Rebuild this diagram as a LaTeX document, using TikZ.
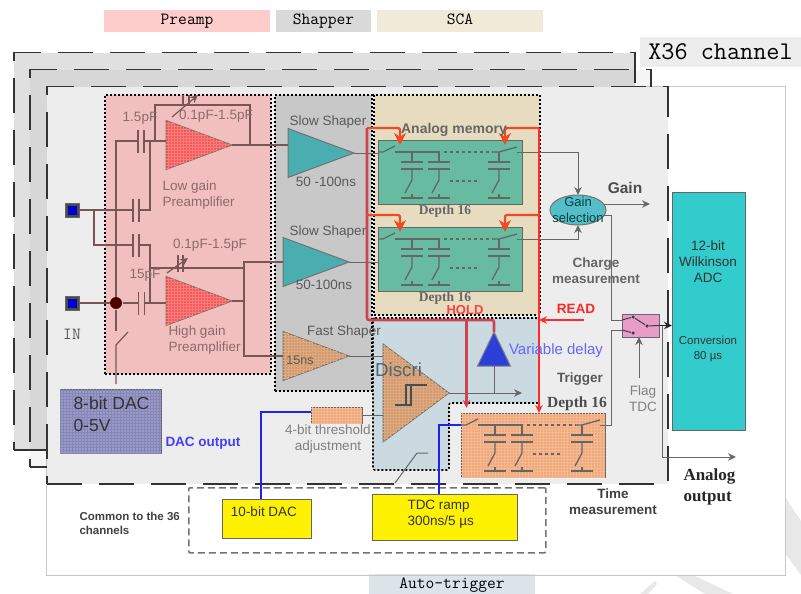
\documentclass[tikz,border=0pt]{standalone}
\usepackage{fontspec}
\setmainfont{Liberation Sans}
\newfontfamily\depthfont{Liberation Serif}
\usetikzlibrary{shapes.geometric,arrows.meta,patterns}
\definecolor{preampfill}{HTML}{F2BFBF}
\definecolor{shaperfill}{HTML}{C8C8C8}
\definecolor{scafill}{HTML}{E8DCC0}
\definecolor{trigfill}{HTML}{CBDAE0}
\definecolor{tealamp}{HTML}{4AADB0}
\definecolor{redamp}{HTML}{F85858}
\definecolor{brownamp}{HTML}{D59A6C}
\definecolor{bankgreen}{HTML}{66BBA0}
\definecolor{bankorange}{HTML}{F0A878}
\definecolor{prebrown}{HTML}{7A5555}
\definecolor{prelabel}{HTML}{8C6A6A}
\definecolor{holdred}{HTML}{CC4450}
\definecolor{branchred}{HTML}{F04A25}
\definecolor{readred}{HTML}{FF2A2A}
\definecolor{wireblue}{HTML}{2222F0}
\definecolor{dacfill}{HTML}{9999CC}
\definecolor{adcfill}{HTML}{33CCCC}
\definecolor{gainfill}{HTML}{55BEC8}
\definecolor{delayblue}{HTML}{2B3FD9}
\definecolor{flagfill}{HTML}{E89CC8}
\definecolor{markgray}{HTML}{E8E8E8}
\newcommand{\capnode}[3]{%
  \node[capgap] (#1) at (#2,#3) {};
  \draw[prewire] (#1.north west) -- (#1.south west) (#1.north east) -- (#1.south east);}
\newcommand{\membank}[5]{%
  \node[bankbox,fill=#4,#5] (#1) at (#2,#3) {};
  \begin{scope}[shift={(#2,#3)},bankwire]
    \coordinate (#1in) at (0,12);
    \coordinate (#1out) at (139,12);
    \draw (#1in) -- (5,12) -- (17,6);
    \draw (17,12) -- (62,12);
    \draw[dashed] (66,12) -- (115,12);
    \draw (115,12) -- (121,12) -- (139,7);
    \draw[dashed] (72,41) -- (99,41);
    \foreach \cx in {34,61,121} {
      \draw (\cx,12) -- (\cx,22);
      \draw (\cx-11,22) -- (\cx+11,22);
      \draw (\cx-11,29) -- (\cx+11,29);
      \draw (\cx,29) -- (\cx,40) -- (\cx-7,53);
      \draw (\cx,54) -- (\cx,58);
      \draw (\cx-11,58) -- (\cx+11,58);
    }
  \end{scope}}

\begin{document}
\begin{tikzpicture}[>={Stealth[length=8pt,width=7.5pt]},x=1pt,y=-1pt,line width=1pt,
  lbl/.style={font=\fontsize{13.5}{16}\selectfont,inner sep=0pt,align=center,text=#1},
  lbl/.default=black!65,
  boldlbl/.style={font=\fontsize{13.5}{16}\selectfont\bfseries,inner sep=0pt,align=center,text=#1},
  boldlbl/.default=black!70,
  legend/.style={font=\fontsize{17}{20}\selectfont\ttfamily,inner sep=0pt,minimum height=22pt,text height=11pt,text depth=3pt},
  chframe/.style={draw=black!80,line width=1.5pt,dash pattern=on 35pt off 17pt,inner sep=0pt,minimum width=621pt,minimum height=397pt,anchor=north west},
  block/.style={draw=black,line width=1.6pt,dash pattern=on 2pt off 2pt,inner sep=0pt,anchor=north west},
  ampl/.style={isosceles triangle,isosceles triangle stretches,shape border rotate=0,draw=black!55,inner sep=0pt,outer sep=0pt,anchor=apex,minimum width=49pt,minimum height=66pt},
  hatched/.style={postaction={pattern=grid,pattern color=#1}},
  capgap/.style={minimum width=6pt,minimum height=23pt,inner sep=0pt,outer sep=0pt},
  bankbox/.style={draw=black!60,minimum width=144pt,minimum height=64pt,inner sep=0pt,outer sep=0pt,anchor=north west},
  bankwire/.style={draw=black!60,line width=1.3pt},
  prewire/.style={draw=prebrown,line width=1.2pt},
  wire/.style={draw=black!60,line width=1pt},
  box/.style={draw=black!60,inner sep=0pt,outer sep=0pt,anchor=north west},
  holdwire/.style={draw=holdred,line width=2.6pt},
  branch/.style={draw=branchred,line width=2.4pt,rounded corners=2pt,>={Stealth[length=12pt,width=12pt]}},
  bluewire/.style={draw=wireblue,line width=2.2pt}]
\useasboundingbox (0,0) rectangle (801,594);
% watermark at the corner
\fill[markgray] (785,497) -- (801,521) -- (801,575) -- (785,553) -- cycle;
\fill[markgray] (675,575) -- (693,575) -- (733,594) -- (705,594) -- cycle;
\fill[markgray] (640,594) -- (655,581) -- (657,584) -- (648,594) -- cycle;
% legend
\node[legend,fill=red!20,minimum width=166pt] (preamplegend) at (187,21) {Preamp};
\node[legend,fill=black!15,minimum width=95pt] (shaperlegend) at (323.5,21) {Shapper};
\node[legend,fill=scafill!60,minimum width=166pt] (scalegend) at (460,21) {SCA};
\node[legend,fill=black!7,minimum width=161pt,minimum height=30pt,font=\fontsize{25.5}{27}\selectfont\ttfamily,text height=19pt,text depth=3pt] (x36) at (720.5,52) {X36 channel};
\node[legend,fill=trigfill!70,minimum width=166pt,minimum height=20pt] (autolegend) at (452,584) {Auto-trigger};
% paper and the stacked channels
\node[draw=black!22,minimum width=739pt,minimum height=489pt,inner sep=0pt,anchor=north west] (paper) at (46,86) {};
\node[chframe,fill=black!12] (chone) at (13,52) {};
\node[chframe,fill=black,fill opacity=.04] (chtwo) at (29,69) {};
\node[chframe,fill=black!7] (chthree) at (46,86) {};
% coloured blocks
\node[block,fill=preampfill,minimum width=166pt,minimum height=279pt] (preampblk) at (104,94) {};
\node[block,fill=shaperfill,minimum width=97pt,minimum height=296pt] (shaperblk) at (274,94) {};
\node[block,fill=scafill,minimum width=166pt,minimum height=220pt] (scablk) at (373,94) {};
\draw[block,fill=trigfill,rounded corners=2pt] (373,318) -- (539,318) -- (539,403) -- (449,403) -- (449,470) -- (373,470) -- cycle;
% inputs and preamplifiers
\node[box,fill=black!70,minimum size=14pt,anchor=center] (padlo) at (72,210) {};
\node[fill=blue!80!black,minimum size=9pt,inner sep=0pt] (padloin) at (padlo) {};
\node[box,fill=black!70,minimum size=14pt,anchor=center] (padhi) at (72,303) {};
\node[fill=blue!80!black,minimum size=9pt,inner sep=0pt] (padhiin) at (padhi) {};
\node[fill=black!70!red,circle,minimum size=12pt,inner sep=0pt] (injn) at (116,303) {};
\capnode{capa}{141}{141}
\capnode{capb}{136}{210}
\capnode{capc}{136}{245}
\capnode{capd}{141.5}{303}
\node[ampl,fill=redamp,hatched=redamp!78!white] (lowamp) at (232,145) {};
\node[ampl,fill=redamp,hatched=redamp!78!white] (hiamp) at (232,301) {};
\node[ampl,fill=tealamp] (slowa) at (354,153) {};
\node[ampl,fill=tealamp] (slowb) at (349,262) {};
\node[ampl,fill=brownamp,hatched=brownamp!85!white] (fast) at (349,356) {};
\node[box,fill=dacfill,hatched=dacfill!88!black,minimum width=101pt,minimum height=64pt] (dac) at (60,389) {};
\draw[prewire] (padlo) -- (capb.west);
\draw[prewire] ([xshift=15pt]padlo.east) |- (capc.west);
\draw[prewire] (capb.east) -| ([xshift=6pt]capa.east);
\draw[prewire] (capc.east) -| ([xshift=5.5pt]capd.east);
\draw[prewire] (padhi) -- (injn) -- (capd.west);
\draw[prewire] (capd.east) -- (capd.east -| hiamp.lower side);
\draw[prewire] (injn) |- (capa.west);
\draw[prewire] (capa.east) -- (capa.east -| lowamp.lower side);
\draw[prewire] ([xshift=11pt]capa.east) |- (250,105) -- (250,145);
\draw[prewire] (lowamp.apex) -- (lowamp.apex -| slowa.lower side);
\draw[prewire] (150,268) -- (244,268);
\draw[prewire] (hiamp.apex) -- (244,301);
\draw[prewire] (slowb.lower side) -- (244,262) -- (244,356) -- (fast.lower side);
\draw[prewire] (injn) -- (116,331);
\draw[prewire] (128,332) -- (116,345) -- ([yshift=5pt]injn |- dac.north);
% variable feedback capacitors
\draw[prewire] (183,95) -- (183,105) (189,95) -- (189,105);
\draw[prewire,->] (172,117) -- (198,95);
\draw[prewire] (178,255) -- (178,272) (183,255) -- (183,272);
\draw[prewire,->] (167,273) -- (188,258);
% analog memories
\membank{mema}{378}{140}{bankgreen}{}
\membank{memb}{378}{227}{bankgreen}{}
\node[ellipse,draw=black!55,fill=gainfill,minimum width=56pt,minimum height=30pt,inner sep=0pt,outer sep=0pt] (gainsel) at (578,210) {};
\draw[wire] (slowa.apex) -- (slowa.apex -| mema.west);
\draw[wire] (slowb.apex) -- (slowb.apex -| memb.west);
\draw[wire,->] (memaout) -| (gainsel.north);
\draw[wire,->] (membout) -| (gainsel.south);
\coordinate (gainend) at (650,204);
\draw[wire,->] ([shift={(26pt,6pt)}]gainsel.center) -- (gainend);
% trigger part
\node[ampl,fill=brownamp,hatched=brownamp!85!white,minimum width=98pt] (discri) at (449,393) {};
\draw[draw=black!75!cyan,line width=2pt] (395,405) -- (411,405) -- (411,385) -- (406,385) -- (406,405) (411,385) -- (427,385);
\node[box,fill=bankorange,hatched=bankorange!80!white,minimum width=51pt,minimum height=16pt] (thres) at (311,407) {};
\draw[wire] (fast.apex) -- (fast.apex -| discri.lower side);
\draw[wire] (thres.east) -- (thres.east -| discri.lower side);
\node[isosceles triangle,isosceles triangle stretches,shape border rotate=90,draw=black!50,fill=delayblue,inner sep=0pt,outer sep=0pt,anchor=apex,minimum width=33pt,minimum height=34pt] (delay) at (494,332) {};
\coordinate (discrend) at (522,393);
\draw[wire,->] (discri.apex) -- (discrend);
\draw[wire] (delay.lower side) -- (delay.lower side |- discrend);
\membank{trigbank}{461}{413}{bankorange}{hatched=bankorange!80!white}
\draw[wire] (395,483) -- (417,453) -- (428,453);
% common part
\node[draw=black!55,line width=1.6pt,dash pattern=on 7pt off 4pt,rounded corners=1pt,minimum width=357pt,minimum height=65pt,inner sep=0pt,anchor=north west] (common) at (188,487) {};
\node[box,fill=yellow,minimum width=89pt,minimum height=39pt] (dacten) at (222,499) {};
\node[box,fill=yellow,minimum width=145pt,minimum height=46pt] (tdc) at (372,494) {};
\draw[bluewire] (thres.west |- 311,412) -| (261,499);
\draw[bluewire] (439,494) |- (trigbankin);
% ADC and output switch
\node[box,fill=adcfill,minimum width=73pt,minimum height=238pt] (adc) at (672,192) {};
\node[box,fill=flagfill,minimum width=37pt,minimum height=23pt] (flag) at (622,314) {};
\draw[wire] ([shift={(25pt,-5pt)}]gainsel.center) -- (611,215) |- ([yshift=5.5pt]flag.west);
\draw[wire] (trigbankout) -- (611,425) |- ([yshift=-4.5pt]flag.west);
\node[circle,fill=black!75,minimum size=3.5pt,inner sep=0pt] (flagup) at (633,317) {};
\node[circle,fill=black!75,minimum size=3.5pt,inner sep=0pt] (flagdn) at (633,333) {};
\node[circle,fill=black!75,minimum size=3.5pt,inner sep=0pt] (flagmid) at (647,326) {};
\draw[draw=black!75] (flagup) -- (flagmid) -- (flag.east);
\draw[draw=black!75] ([yshift=5.5pt]flag.west) -- (flagup);
\draw[draw=black!75] ([yshift=-4.5pt]flag.west) -- (flagdn);
\draw[draw=black!85,->] (flag.east) -- (flag.east -| adc.west);
\coordinate (flagfoot) at (639,378);
\draw[wire,->] (flagfoot) -- (flagfoot |- flag.south);
\coordinate (analogjn) at (662.5,325.5);
\coordinate (analogend) at (736,457);
\draw[wire,->] (analogjn) |- (analogend);
% HOLD and READ
\coordinate (holdtop) at (367,128);
\coordinate (holdmid) at (367,215);
\coordinate (holdlow) at (367,320);
\coordinate (readtop) at (539,128);
\coordinate (readmid) at (539,215);
\coordinate (readjn) at (539,320);
\draw[holdwire,rounded corners=2pt] (holdtop) -- (holdlow) -- (494,320) -- (delay.apex);
\draw[holdwire,->] (466.5,320) -- (466.5,408);
\draw[draw=readred,line width=2pt,->] (readtop) -- (readtop |- trigbank.north);
\draw[branch,->] (holdtop) -| ([shift={(22pt,-5pt)}]mema.north west);
\draw[branch,->] (holdmid) -| ([shift={(22pt,-5pt)}]memb.north west);
\draw[branch,->] (readtop) -| ([shift={(-17pt,-5pt)}]mema.north east);
\draw[branch,->] (readmid) -| ([shift={(-17pt,-5pt)}]memb.north east);
\coordinate (readstart) at (584,320);
\draw[draw=readred,line width=1.6pt,->] (readstart) -- (readjn);
% labels
\node[lbl=prelabel] (capatxt) at (140,118) {1.5pF};
\node[lbl=prelabel] (lowfbtxt) at (216,116) {0.1pF-1.5pF};
\node[lbl=prelabel,align=left,anchor=north west] (lowtxt) at (162,180) {Low gain\\Preamplifier};
\node[lbl=prelabel] (hifbtxt) at (210,245) {0.1pF-1.5pF};
\node[lbl=prelabel] (capdtxt) at (145,275) {15pF};
\node[lbl=prelabel,align=left,anchor=north west] (hitxt) at (168,325) {High gain\\Preamplifier};
\node[legend,minimum height=0pt,text=black!65] (intxt) at (72,335) {IN};
\node[lbl,align=left,anchor=north west,font=\fontsize{17.5}{22}\selectfont,text=black!80] (dactxt) at (73,396) {8-bit DAC\\0-5V};
\node[boldlbl=blue!75,anchor=west] (dacout) at (165,443) {DAC output};
\node[lbl] (slowatxt) at (328,122) {Slow Shaper};
\node[lbl] (slowatime) at (326,182) {50 -100ns};
\node[lbl] (slowbtxt) at (328,232) {Slow Shaper};
\node[lbl] (slowbtime) at (324,285) {50-100ns};
\node[lbl] (fasttxt) at (344,332) {Fast Shaper};
\node[lbl,font=\fontsize{12.5}{14}\selectfont] (fasttime) at (300,360) {15ns};
\node[boldlbl=black!60,font=\fontsize{14}{16}\selectfont\bfseries] (memtxt) at (454,130) {Analog memory};
\node[boldlbl=black!60,font=\fontsize{13.5}{14}\selectfont\bfseries\depthfont] (depthone) at (445,211) {Depth 16};
\node[boldlbl=black!60,font=\fontsize{13.5}{14}\selectfont\bfseries\depthfont] (depthtwo) at (445,298) {Depth 16};
\node[lbl=black!50!teal,font=\fontsize{13}{15.5}\selectfont] (gainseltxt) at (578,210) {Gain\\selection};
\node[boldlbl,font=\fontsize{15.5}{18}\selectfont\bfseries] (gaintxt) at (625,188) {Gain};
\node[boldlbl=black!60] (chargetxt) at (596,271) {Charge\\measurement};
\node[boldlbl=red!85] (readtxt) at (576,309) {READ};
\node[boldlbl=red!75,font=\fontsize{13}{15}\selectfont\bfseries] (holdtxt) at (465,310) {HOLD};
\node[lbl=blue!60,font=\fontsize{15}{17}\selectfont] (delaytxt) at (556,351) {Variable delay};
\node[boldlbl=black!65] (trigtxt) at (580,379) {Trigger};
\node[boldlbl=black!70,font=\fontsize{15.5}{16}\selectfont\bfseries\depthfont] (depththree) at (577,404) {Depth 16};
\node[lbl=black!60!cyan,font=\fontsize{18.8}{20}\selectfont] (discritxt) at (398.5,370) {Discri};
\node[lbl=black!50] (thrtxt) at (328,439) {4-bit threshold\\adjustment};
\node[lbl=black!50] (flagtxt) at (643,399) {Flag\\TDC};
\node[lbl=black!80] (wilktxt) at (708,262) {12-bit\\Wilkinson\\ADC};
\node[lbl=black!80,font=\fontsize{11.5}{14.5}\selectfont] (convtxt) at (708,349) {Conversion\\80 µs};
\node[lbl=black!80] (dactentxt) at (264,512) {10-bit DAC};
\node[lbl=black!80,align=left,anchor=west] (tdctxt) at (407,514) {TDC ramp\\300ns/5 µs};
\node[boldlbl=black!75,align=left,anchor=west,font=\fontsize{11.5}{14}\selectfont\bfseries] (commontxt) at (79,523) {Common to the 36\\channels};
\node[boldlbl=black!75] (timetxt) at (613,502) {Time\\measurement};
\node[boldlbl=black!85,align=left,anchor=west,font=\fontsize{17}{21}\selectfont\bfseries\depthfont] (analogtxt) at (683,487) {Analog\\output};
\end{tikzpicture}
\end{document}
